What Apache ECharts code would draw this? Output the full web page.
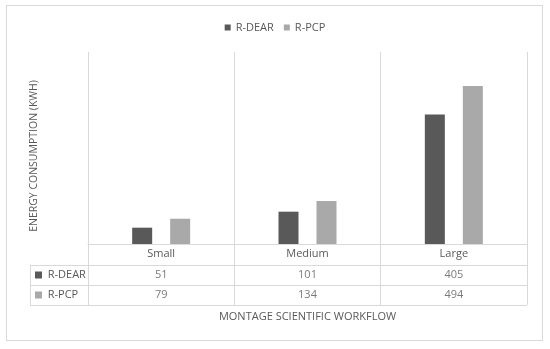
<!DOCTYPE html>
<html>
<head>
<meta charset="utf-8">
<script src="https://cdn.jsdelivr.net/npm/echarts@6/dist/echarts.min.js"></script>
<style>
html,body{margin:0;padding:0;background:#fff;}
#chart{width:550px;height:349px;position:absolute;left:0;top:0;}
#frame{position:absolute;left:6px;top:5px;width:535px;height:334px;border:1px solid #d9d9d9;pointer-events:none;}
</style>
</head>
<body>
<div id="chart"></div>
<div id="frame"></div>
<script>
const categories = ['Small', 'Medium', 'Large'];
const seriesNames = ['R-DEAR', 'R-PCP'];
const rDear = [51, 101, 405];
const rPcp = [79, 134, 494];
const yTitle = 'ENERGY CONSUMPTION (KWH)';
const xTitle = 'MONTAGE SCIENTIFIC WORKFLOW';

const seriesValues = [rDear, rPcp];
const seriesColors = ['#595959', '#a9a9a9'];
const textColor = '#595959';
const lineColor = '#d9d9d9';
const font = 'Open Sans';

const tableData = [];
seriesValues.forEach(function (vals, r) {
  vals.forEach(function (v, c) { tableData.push([c, r, v]); });
});

const chart = echarts.init(document.getElementById('chart'));
chart.setOption({
  animation: false,
  textStyle: { fontFamily: font, color: textColor },
  legend: {
    top: 17, left: 'center',
    icon: 'rect', itemWidth: 6, itemHeight: 6, itemGap: 10,
    textStyle: { fontFamily: font, fontSize: 11, color: textColor },
    data: seriesNames
  },
  grid: [
    { left: 88, right: 23, top: 52, height: 192 },
    { left: 88, right: 23, top: 265, height: 40 }
  ],
  xAxis: [
    {
      gridIndex: 0, type: 'category', data: categories,
      axisLine: { show: true, lineStyle: { color: lineColor } },
      axisTick: { show: true, length: 21, lineStyle: { color: lineColor } },
      splitLine: { show: true, lineStyle: { color: lineColor } },
      axisLabel: { fontSize: 11, color: textColor, fontFamily: font, margin: 4 }
    },
    {
      gridIndex: 1, type: 'category', data: categories,
      axisLine: { show: false },
      axisTick: { show: false },
      axisLabel: { show: false },
      splitLine: { show: true, lineStyle: { color: lineColor } },
      name: xTitle, nameLocation: 'middle', nameGap: 6,
      nameTextStyle: { fontSize: 11, color: textColor, fontFamily: font, verticalAlign: 'top' }
    }
  ],
  yAxis: [
    {
      gridIndex: 0, type: 'value', min: 0, max: 600,
      axisLine: { show: false }, axisTick: { show: false },
      axisLabel: { show: false }, splitLine: { show: false },
      name: yTitle, nameLocation: 'middle', nameGap: 48, nameRotate: 90,
      nameTextStyle: { fontSize: 10.5, color: textColor, fontFamily: font, padding: [0, 16, 0, 0] }
    },
    {
      gridIndex: 1, type: 'category', data: seriesNames, inverse: true,
      position: 'left',
      axisLine: { show: true, lineStyle: { color: lineColor } },
      axisTick: { show: true, length: 58, lineStyle: { color: lineColor } },
      splitLine: { show: true, lineStyle: { color: lineColor } },
      axisLabel: {
        align: 'left', margin: 53,
        formatter: function (v, i) { return '{s' + i + '|}  ' + v; },
        rich: {
          s0: { width: 7, height: 7, backgroundColor: seriesColors[0] },
          s1: { width: 7, height: 7, backgroundColor: seriesColors[1] }
        },
        fontSize: 11, color: textColor, fontFamily: font
      }
    },
    {
      gridIndex: 1, type: 'category', data: seriesNames, inverse: true,
      position: 'left', offset: 58,
      axisLine: { show: true, lineStyle: { color: lineColor } },
      axisTick: { show: false }, axisLabel: { show: false }, splitLine: { show: false }
    }
  ],
  series: [
    {
      name: seriesNames[0], type: 'bar', xAxisIndex: 0, yAxisIndex: 0,
      data: rDear, barWidth: 20, barGap: '90%',
      itemStyle: { color: seriesColors[0] }
    },
    {
      name: seriesNames[1], type: 'bar', xAxisIndex: 0, yAxisIndex: 0,
      data: rPcp, barWidth: 20, barGap: '90%',
      itemStyle: { color: seriesColors[1] }
    },
    {
      type: 'scatter', xAxisIndex: 1, yAxisIndex: 1,
      data: tableData, symbolSize: 0,
      encode: { x: 0, y: 1 },
      label: {
        show: true, position: 'inside',
        formatter: function (p) { return String(p.value[2]); },
        fontSize: 11, color: textColor, fontFamily: font
      },
      silent: true
    }
  ]
});
</script>
</body>
</html>
